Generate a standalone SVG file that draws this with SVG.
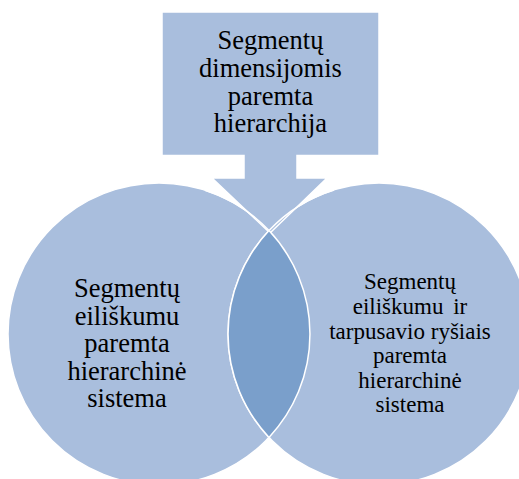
<svg xmlns="http://www.w3.org/2000/svg" width="519" height="479" viewBox="0 0 519 479">
<style>
.fill{fill:#A9BEDD}
.edge{fill:none;stroke:#FFFFFF;stroke-width:1.5}
.t{font-family:"Liberation Serif","Times New Roman",serif;fill:#000;text-anchor:middle}
</style>
<rect width="519" height="479" fill="#FFFFFF"/>
<g id="node-left">
<circle cx="159" cy="334" r="151" class="fill" stroke="#FFFFFF" stroke-width="1.5"/>
</g>
<g id="node-right">
<circle cx="379" cy="334" r="151" class="fill" stroke="#FFFFFF" stroke-width="1.5"/>
</g>
<g id="node-top">
<path class="fill" stroke="#FFFFFF" stroke-width="1.5" d="M162,12 H379 V155.5 H297 V178 H327 L270,233 L212,178 H244 V155.5 H162 Z"/>
</g>
<g id="circle-edges">
<path class="edge" d="M205,190.2 A151,151 0 0 1 269,230.6"/>
<path class="edge" d="M269,230.6 A151,151 0 0 1 334,190"/>
</g>
<g id="node-overlap">
<path fill="#7A9FCB" stroke="#FFFFFF" stroke-width="1.5" d="M269,230.6 A151,151 0 0 1 269,437.4 A151,151 0 0 1 269,230.6 Z"/>
</g>
<g id="labels">
<text class="t" font-size="26.5" x="270.5"><tspan x="270.5" y="49">Segmentų</tspan><tspan x="270.5" y="77">dimensijomis</tspan><tspan x="270.5" y="104.5">paremta</tspan><tspan x="270.5" y="132">hierarchija</tspan></text>
<text class="t" font-size="26.5"><tspan x="127" y="297">Segmentų</tspan><tspan x="127" y="324.5">eiliškumu</tspan><tspan x="127" y="352">paremta</tspan><tspan x="127" y="379.5">hierarchinė</tspan><tspan x="127" y="407">sistema</tspan></text>
<text class="t" font-size="23"><tspan x="410" y="289">Segmentų</tspan><tspan x="410" y="314" word-spacing="4">eiliškumu ir</tspan><tspan x="410" y="338.5">tarpusavio ryšiais</tspan><tspan x="410" y="363">paremta</tspan><tspan x="410" y="388">hierarchinė</tspan><tspan x="410" y="412">sistema</tspan></text>
</g>
</svg>
